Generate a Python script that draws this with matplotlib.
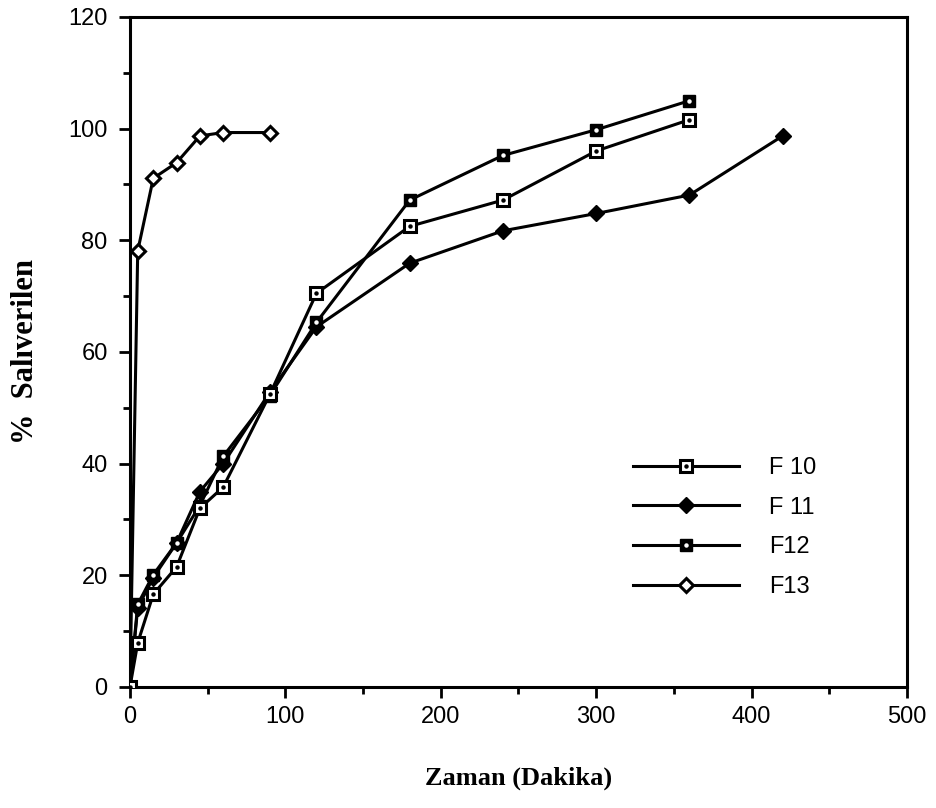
import matplotlib.pyplot as plt
from matplotlib.legend_handler import HandlerTuple
from matplotlib.ticker import MultipleLocator

# dissolution times (minutes) and % released
t_f10 = [0, 5, 15, 30, 45, 60, 90, 120, 180, 240, 300, 360]
f10 = [0, 7.9, 16.6, 21.5, 32.0, 35.8, 52.4, 70.5, 82.5, 87.2, 96.0, 101.6]

t_f11 = [0, 5, 15, 30, 45, 60, 90, 120, 180, 240, 300, 360, 420]
f11 = [0, 14.2, 19.6, 25.8, 35.0, 40.0, 52.8, 64.5, 75.9, 81.7, 84.8, 88.1, 98.7]

t_f12 = [0, 5, 15, 30, 45, 60, 90, 120, 180, 240, 300, 360]
f12 = [0, 14.8, 20.1, 25.8, 32.5, 41.3, 52.2, 65.3, 87.2, 95.2, 99.8, 105.0]

t_f13 = [0, 5, 15, 30, 45, 60, 90]
f13 = [0, 78.1, 91.1, 93.9, 98.7, 99.3, 99.3]

SERIF = "Liberation Serif"
SANS = "Liberation Sans"

fig = plt.figure(figsize=(9.37, 8.08), dpi=100)
ax = fig.add_axes([0.1387, 0.1498, 0.8293, 0.8292])

lw = 2.2
ms = 9

l13, = ax.plot(t_f13, f13, color="black", lw=lw, marker="D", ms=7.5,
               mfc="white", mec="black", mew=2.2, zorder=3)
l11, = ax.plot(t_f11, f11, color="black", lw=lw, marker="D", ms=8,
               mfc="black", mec="black", zorder=3)
l12, = ax.plot(t_f12, f12, color="black", lw=lw, marker="s", ms=ms,
               mfc="black", mec="black", zorder=4)
d12, = ax.plot(t_f12, f12, ls="none", marker="o", ms=2.2, mfc="white", mec="white", zorder=5)
l10, = ax.plot(t_f10, f10, color="black", lw=lw, marker="s", ms=ms,
               mfc="white", mec="black", mew=2.2, zorder=4)
d10, = ax.plot(t_f10, f10, ls="none", marker="o", ms=2.2, mfc="black", mec="black", zorder=5)

ax.set_xlim(0, 500)
ax.set_ylim(0, 120)
ax.xaxis.set_major_locator(MultipleLocator(100))
ax.xaxis.set_minor_locator(MultipleLocator(50))
ax.yaxis.set_major_locator(MultipleLocator(20))
ax.yaxis.set_minor_locator(MultipleLocator(10))
ax.tick_params(which="both", direction="out", width=2, top=False, right=False)
ax.tick_params(which="major", length=8, labelsize=17)
ax.tick_params(axis="y", which="major", pad=8)
ax.tick_params(axis="x", which="major", pad=6)
ax.tick_params(which="minor", length=5)
for lab in ax.get_xticklabels() + ax.get_yticklabels():
    lab.set_fontfamily(SANS)
for sp in ax.spines.values():
    sp.set_linewidth(2.2)

ax.set_xlabel("Zaman (Dakika)", fontfamily=SERIF, fontweight="bold", fontsize=19)
ax.set_ylabel("%  Salıverilen", fontfamily=SERIF, fontweight="bold", fontsize=22)
ax.xaxis.set_label_coords(0.5, -0.136)
ax.yaxis.set_label_coords(-0.135, 0.5)
ax.xaxis.label.set_va("center")
ax.yaxis.label.set_va("center")

ax.legend([(l10, d10), l11, (l12, d12), l13], ["F 10", "F 11", "F12", "F13"],
          handler_map={tuple: HandlerTuple(ndivide=1, pad=0)},
          loc="upper left", bbox_to_anchor=(0.62, 0.375), frameon=False,
          handlelength=4.5, handletextpad=1.27, labelspacing=0.75,
          prop={"family": SANS, "size": 17})

fig.savefig("out.png", dpi=100)
